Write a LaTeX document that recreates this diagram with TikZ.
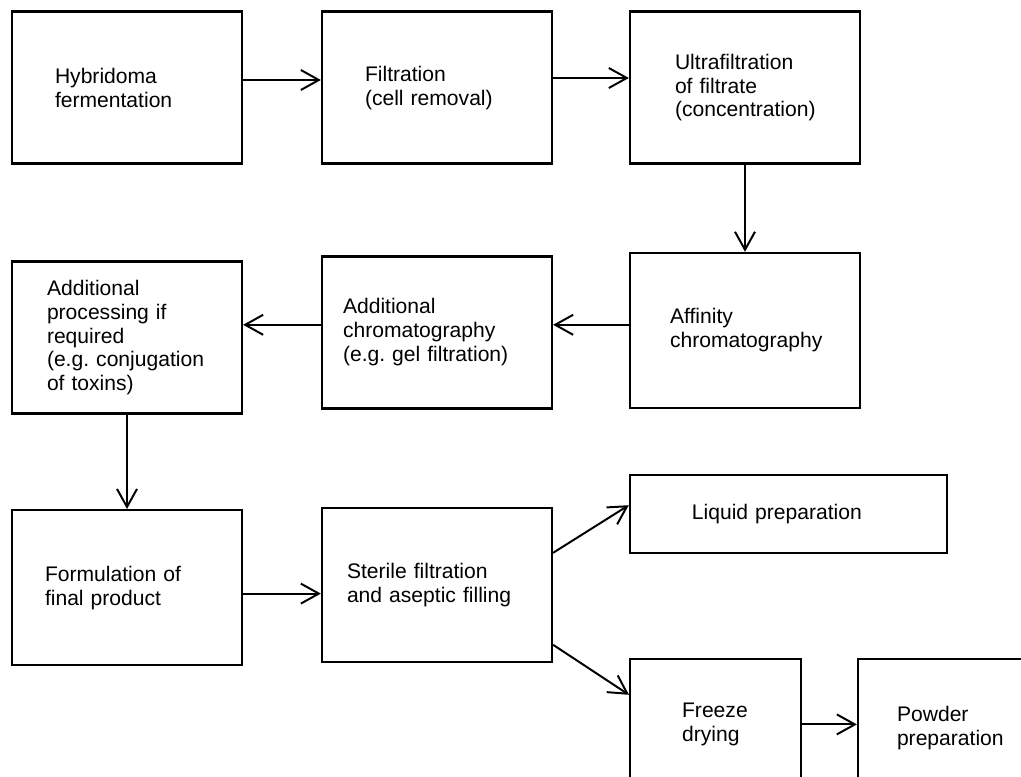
\documentclass[tikz,border=0pt]{standalone}
\usepackage{fontspec}
\setmainfont{Liberation Sans}
\usetikzlibrary{arrows.meta}
\tikzset{
  mblock/.style 2 args={draw,line width=1.6pt,minimum height=3.8cm,text width=#1,inner xsep=#2,align=left,font=\fontsize{15}{17}\selectfont},
  mflow/.style={-{Straight Barb[length=4.5mm,width=5mm]},line width=1.4pt},
}
\begin{document}
\begin{tikzpicture}
\useasboundingbox (0,0) rectangle (25.525,-19.4);
\clip (0,0) rectangle (25.525,-19.4);
% ---- top row
\node[mblock={3.6cm}{1.075cm}] (hyb) at (3.175,-2.19) {Hybridoma\\fermentation};
\node[mblock={3.6cm}{1.075cm}] (filt) at (10.925,-2.19) {Filtration\\(cell removal)};
\node[mblock={3.5cm}{1.125cm}] (ultra) at (18.625,-2.19) {Ultrafiltration\\of filtrate\\(concentration)};
% ---- middle row
\node[mblock={3.75cm}{1cm},minimum height=3.875cm] (aff) at (18.625,-8.26) {Affinity\\chromatography};
\node[mblock={4.7cm}{0.525cm}] (chrom) at (10.925,-8.31) {Additional\\chromatography\\(e.g.\ gel filtration)};
\node[mblock={4cm}{0.875cm}] (proc) at (3.175,-8.44) {Additional\\processing if\\required\\\mbox{(e.g.\ conjugation}\\of toxins)};
% ---- bottom rows
\node[mblock={4.1cm}{0.825cm},minimum height=3.875cm] (form) at (3.175,-14.69) {Formulation of\\final product};
\node[mblock={4.5cm}{0.625cm},minimum height=3.85cm] (steril) at (10.925,-14.62) {Sterile filtration\\and aseptic filling};
\node[mblock={4.825cm}{1.55cm},minimum height=1.95cm] (liquid) at (19.71,-12.85) {Liquid preparation};
\node[mblock={1.675cm}{1.3cm},minimum height=3.275cm] (freeze) at (17.89,-18.11) {Freeze\\drying};
\node[mblock={2.35cm}{0.975cm},minimum height=3.45cm] (powder) at (23.6,-18.2) {Powder\\\mbox{preparation}};
% ---- flow
\draw[mflow] ([yshift=0.19cm]hyb.east) -- ([yshift=0.19cm]filt.west);
\draw[mflow] ([yshift=0.24cm]filt.east) -- ([yshift=0.24cm]ultra.west);
\draw[mflow] (ultra.south) -- (aff.north);
\draw[mflow] ([yshift=0.14cm]aff.west) -- ([yshift=0.14cm]aff.west -| chrom.east);
\draw[mflow] ([yshift=0.19cm]chrom.west) -- ([yshift=0.19cm]chrom.west -| proc.east);
\draw[mflow] (proc.south) -- (form.north);
\draw[mflow] ([yshift=-0.15cm]form.east) -- ([yshift=-0.15cm]form.east -| steril.west);
\draw[mflow] ([yshift=0.8cm]steril.east) -- ([yshift=0.22cm]liquid.west);
\draw[mflow] ([yshift=-1.5cm]steril.east) -- ([yshift=0.74cm]freeze.west);
\draw[mflow] (freeze.east) -- (freeze.east -| powder.west);
\end{tikzpicture}
\end{document}
